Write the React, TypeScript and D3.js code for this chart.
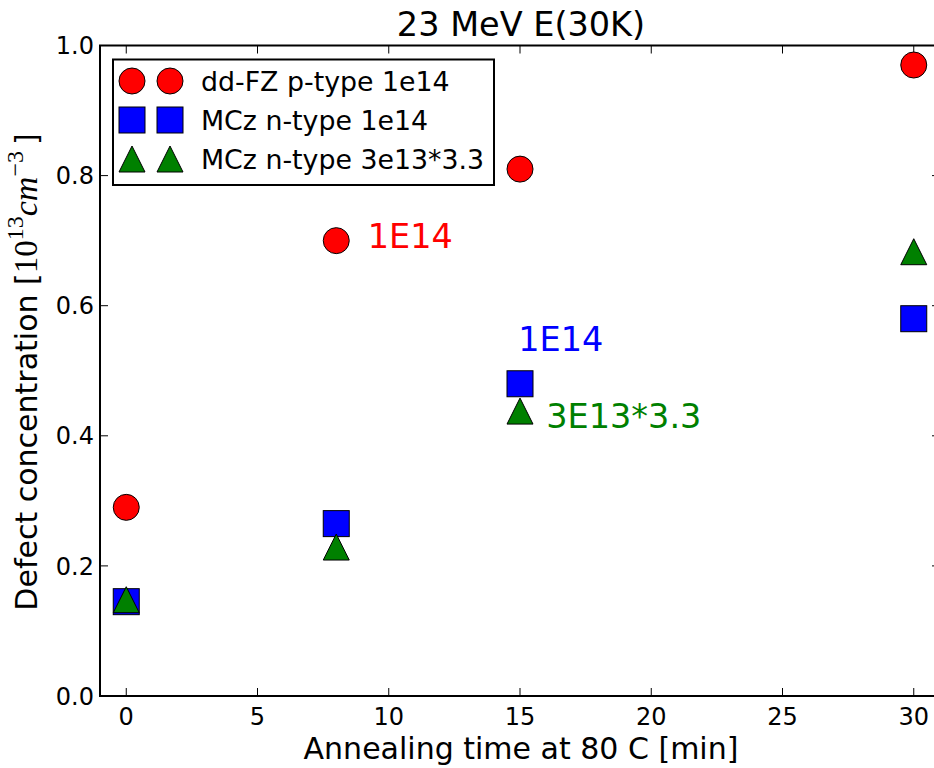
import React from "react";
import * as d3 from "d3";

const W = 934;
const H = 768;

const seriesLabels = ["dd-FZ p-type 1e14", "MCz n-type 1e14", "MCz n-type 3e13*3.3"];
const seriesColors = ["#ff0000", "#0000ff", "#008000"];
const seriesShapes = ["circle", "square", "triangle"];

const timesFZ = [0, 8, 15, 30];
const valuesFZ = [0.29, 0.70, 0.81, 0.97];
const timesMCz = [0, 8, 15, 30];
const valuesMCz = [0.145, 0.265, 0.48, 0.58];
const timesMCz3 = [0, 8, 15, 30];
const valuesMCz3 = [0.148, 0.229, 0.438, 0.683];

const annotationTexts = ["1E14", "1E14", "3E13*3.3"];
const annotationX = [9.2, 14.93, 16.0];
const annotationY = [0.689, 0.53, 0.412];
const annotationColors = ["#ff0000", "#0000ff", "#008000"];

const xTicks = [0, 5, 10, 15, 20, 25, 30];
const yTicks = [0, 0.2, 0.4, 0.6, 0.8, 1.0];

const FONT = "DejaVu Sans";
const MS = 26;

function Marker({ shape, cx, cy, color }: { shape: string; cx: number; cy: number; color: string }) {
  const h = MS / 2;
  if (shape === "circle") {
    return <circle cx={cx} cy={cy} r={h} fill={color} stroke="#000" strokeWidth={1} />;
  }
  if (shape === "square") {
    return <rect x={cx - h} y={cy - h} width={MS} height={MS} fill={color} stroke="#000" strokeWidth={1} />;
  }
  const p = d3.path();
  p.moveTo(cx, cy - h);
  p.lineTo(cx - h, cy + h);
  p.lineTo(cx + h, cy + h);
  p.closePath();
  return <path d={p.toString()} fill={color} stroke="#000" strokeWidth={1} />;
}

export default function App() {
  const x = d3.scaleLinear().domain([-1, 31]).range([100, 940]);
  const y = d3.scaleLinear().domain([0, 1]).range([696, 45.5]);
  const [x0, x1] = x.range();
  const [y0, y1] = y.range();
  const tick = 8;
  const fmt = d3.format(".1f");

  const series = [
    { t: timesFZ, v: valuesFZ },
    { t: timesMCz, v: valuesMCz },
    { t: timesMCz3, v: valuesMCz3 },
  ];

  const legendX = 113;
  const legendY = 59.5;
  const legendW = 381;
  const legendH = 125.5;
  const rowY = [81, 120, 159];

  return (
    <svg
      width={W}
      height={H}
      style={{ position: "absolute", left: 0, top: 0, background: "#fff" }}
      fontFamily={FONT}
    >
      <rect x={0} y={0} width={W} height={H} fill="#fff" />
      {/* title */}
      <text x={(x0 + x1) / 2 + 1} y={36} textAnchor="middle" fontSize={33.5} fill="#000">
        23 MeV E(30K)
      </text>

      {/* ticks */}
      {xTicks.map((t) => (
        <g key={"xt" + t}>
          <line x1={x(t)} x2={x(t)} y1={y0} y2={y0 - tick} stroke="#000" strokeWidth={1} />
          <line x1={x(t)} x2={x(t)} y1={y1} y2={y1 + tick} stroke="#000" strokeWidth={1} />
          <text x={x(t)} y={725} textAnchor="middle" fontSize={24} fill="#000">
            {t}
          </text>
        </g>
      ))}
      {yTicks.map((t) => (
        <g key={"yt" + t}>
          <line x1={x0} x2={x0 + tick} y1={y(t)} y2={y(t)} stroke="#000" strokeWidth={1} />
          <line x1={x1} x2={x1 - tick} y1={y(t)} y2={y(t)} stroke="#000" strokeWidth={1} />
          <text x={94} y={y(t)} dy="0.36em" textAnchor="end" fontSize={24} fill="#000">
            {fmt(t)}
          </text>
        </g>
      ))}

      {/* frame */}
      <rect x={x0} y={y1} width={x1 - x0} height={y0 - y1} fill="none" stroke="#000" strokeWidth={2} />

      {/* data */}
      {series.map((s, si) =>
        s.t.map((t, i) => (
          <Marker key={si + "-" + i} shape={seriesShapes[si]} cx={x(t)} cy={y(s.v[i])} color={seriesColors[si]} />
        ))
      )}

      {/* annotations */}
      {annotationTexts.map((a, i) => (
        <text key={"an" + i} x={x(annotationX[i])} y={y(annotationY[i])} fontSize={33.5} fill={annotationColors[i]}>
          {a}
        </text>
      ))}

      {/* legend */}
      <rect x={legendX} y={legendY} width={legendW} height={legendH} fill="#fff" stroke="#000" strokeWidth={2} />
      {seriesLabels.map((lab, i) => (
        <g key={"lg" + i}>
          <Marker shape={seriesShapes[i]} cx={132} cy={rowY[i]} color={seriesColors[i]} />
          <Marker shape={seriesShapes[i]} cx={170} cy={rowY[i]} color={seriesColors[i]} />
          <text x={201} y={rowY[i]} dy="0.36em" fontSize={26.8} fill="#000">
            {lab}
          </text>
        </g>
      ))}

      {/* axis labels */}
      <text x={(x0 + x1) / 2 + 1} y={759} textAnchor="middle" fontSize={30} fill="#000">
        Annealing time at 80 C [min]
      </text>
      <text transform={`translate(37,372) rotate(-90)`} textAnchor="middle" fontSize={30} fill="#000">
        <tspan>Defect concentration [</tspan>
        <tspan fontFamily="Liberation Serif" fontSize={33}>10</tspan>
        <tspan fontFamily="Liberation Serif" fontSize={24} dy={-14}>13</tspan>
        <tspan fontFamily="Liberation Serif" fontSize={34} fontStyle="italic" dy={14}>cm</tspan>
        <tspan fontFamily="Liberation Serif" fontSize={24} dy={-14}>−3</tspan>
        <tspan dy={14}>{"\u2009]"}</tspan>
      </text>
    </svg>
  );
}
